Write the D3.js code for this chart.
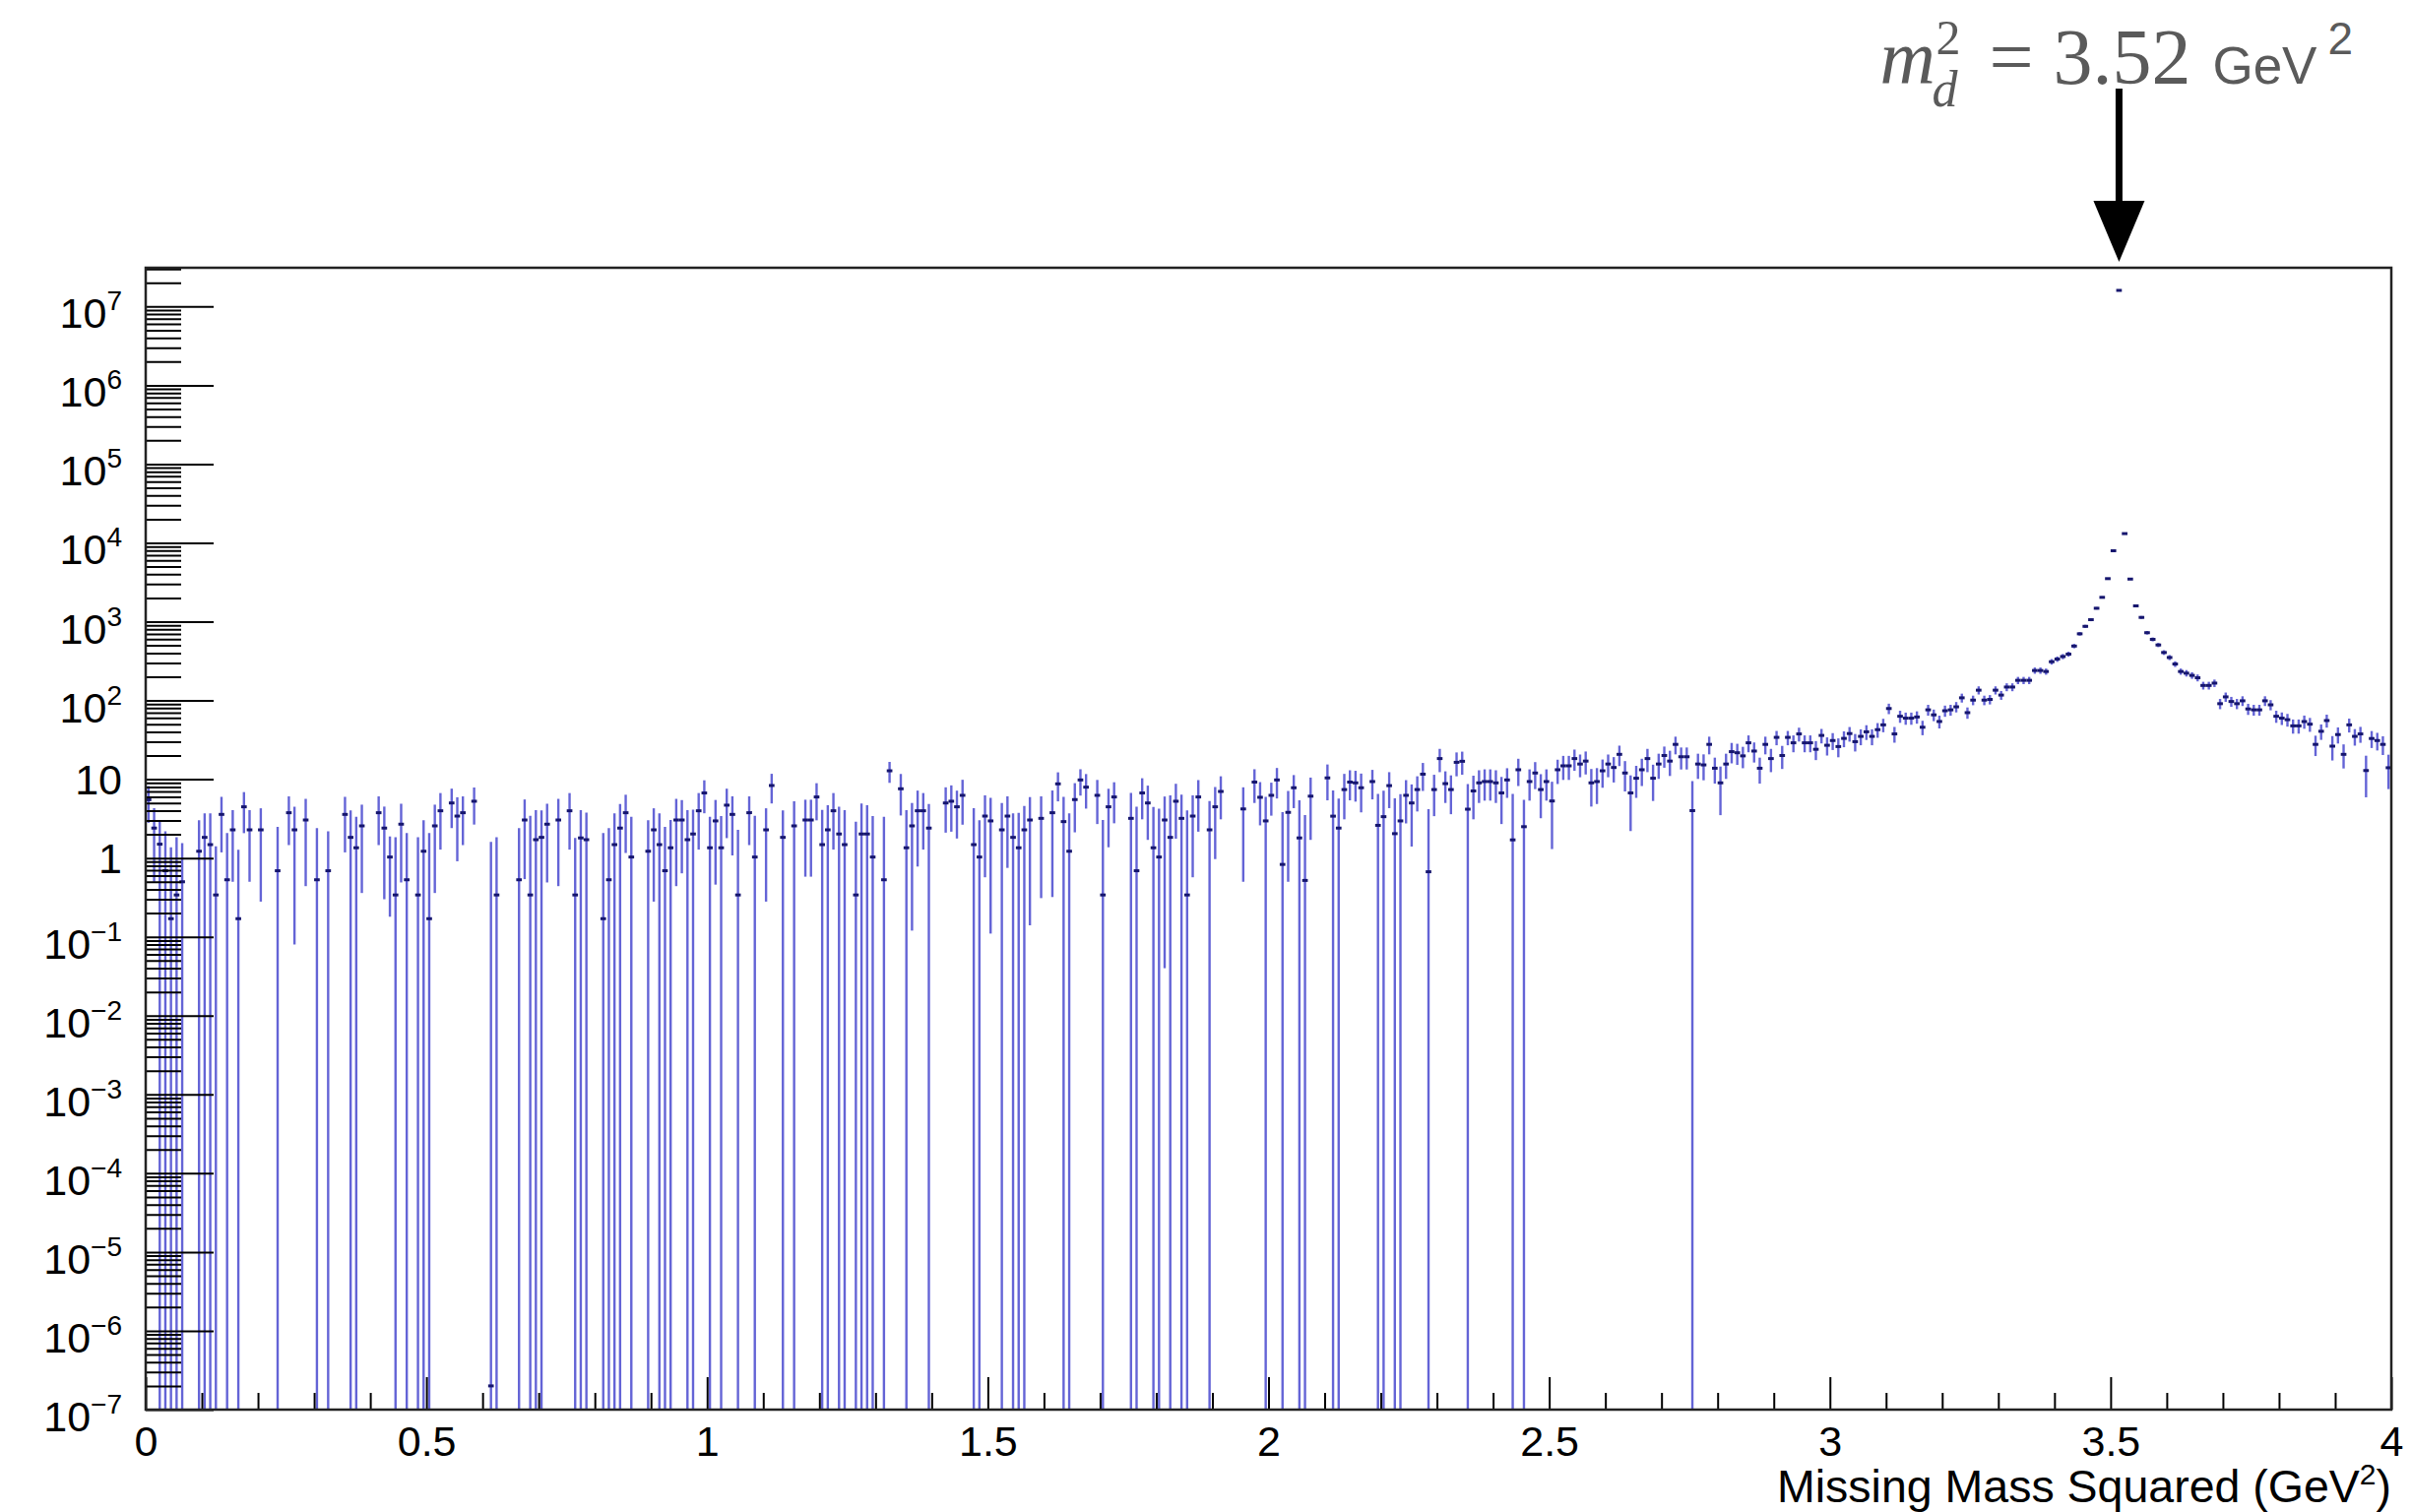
<!DOCTYPE html>
<html>
<head>
<meta charset="utf-8">
<script src="https://cdn.jsdelivr.net/npm/d3@7"></script>
<style>
  html, body { margin: 0; padding: 0; background: #fff; }
</style>
</head>
<body>
<div id="chart"></div>
<script>
// bin contents, 400 bins of width 0.01 from 0 to 4 (0 = empty bin)
const binValues = [
  5.5, 2.4, 1.5, 0.69, 0.17, 0.34, 0.5, 0, 0, 1.22,          // 0-9
  1.83, 1.48, 0.34, 3.58, 0.53, 2.28, 0.17, 4.47, 2.28, 0,   // 10-19
  2.28, 0, 0, 0.69, 0, 3.76, 2.28, 0, 3.04, 0,               // 20-29
  0.53, 0, 0.69, 0, 0, 3.58, 1.83, 1.35, 2.56, 0,            // 30-39
  0, 3.76, 2.4, 1.03, 0.34, 2.69, 0.53, 0, 0.34, 1.22,       // 40-49
  0.17, 2.56, 3.98, 0, 5.0, 3.41, 3.76, 0, 5.26, 0,          // 50-59
  0, 2e-7, 0.34, 0, 0, 0, 0.53, 3.04, 0.34, 1.71,            // 60-69
  1.83, 2.69, 0, 3.04, 0, 3.98, 0.34, 1.8, 1.71, 0,          // 70-79
  0, 0.17, 0.53, 1.48, 2.4, 3.76, 1.03, 0, 0, 1.22,          // 80-89
  2.28, 1.48, 0.69, 1.35, 3.04, 3.04, 1.71, 2.02, 3.98, 6.7, // 90-99
  1.35, 2.96, 1.35, 4.69, 3.58, 0.34, 0, 3.76, 1.03, 0,      // 100-109
  2.28, 8.33, 0, 1.83, 0, 2.56, 0, 3.04, 3.04, 5.96,         // 110-119
  1.48, 2.28, 3.98, 2.02, 1.48, 0, 0.34, 2.02, 2.02, 1.03,   // 120-129
  0, 0.53, 12.8, 0, 7.57, 1.35, 2.56, 3.98, 3.98, 2.4,       // 130-139
  0, 0, 5.0, 5.26, 4.47, 6.25, 0, 1.48, 1.03, 3.41,          // 140-149
  2.96, 0, 2.28, 3.41, 1.83, 1.35, 2.28, 3.04, 0, 3.19,      // 150-159
  0, 3.76, 8.74, 2.9, 1.22, 5.52, 9.8, 7.94, 0, 6.25,        // 160-169
  0.34, 4.47, 5.96, 0, 0, 3.19, 0.69, 6.7, 5.0, 1.35,        // 170-179
  1.03, 3.04, 1.83, 5.26, 3.19, 0.34, 3.41, 5.96, 0, 2.28,   // 180-189
  4.47, 7.0, 0, 0, 0, 4.2, 0, 9.2, 5.9, 2.96,                // 190-199
  6.25, 9.8, 0.83, 3.8, 7.8, 1.8, 0.52, 6.1, 0, 0,           // 200-209
  10.4, 3.4, 2.4, 7.4, 9.2, 9.0, 7.8, 0, 9.35, 2.6,          // 210-219
  3.35, 8.3, 2.04, 2.96, 6.25, 5.0, 7.4, 11.6, 0.67, 7.4,    // 220-229
  18.3, 8.8, 7.4, 16.4, 16.9, 4.17, 7.1, 9.0, 9.35, 9.35,    // 230-239
  9.0, 6.7, 9.8, 1.7, 13.2, 2.5, 9.35, 12.0, 7.4, 9.35,      // 240-249
  5.3, 13.2, 14.8, 14.8, 18.3, 15.6, 17.0, 9.0, 9.35, 12.8,  // 250-259
  15.6, 14.1, 20.7, 12.0, 6.7, 10.3, 13.2, 18.3, 10.3, 15.6, // 260-269
  20.0, 17.0, 27.7, 19.3, 19.3, 4.0, 15.6, 15.2, 27.7, 13.8, // 270-279
  9.0, 15.6, 22.4, 21.7, 19.8, 29.0, 22.8, 13.8, 27.7, 18.3, // 280-289
  34.0, 20.0, 34.0, 29.0, 37.6, 29.0, 29.0, 24.0, 36.0, 27.0, // 290-299
  31, 26, 33, 38, 30, 35, 40, 35, 42.6, 49,                  // 300-309
  79, 37.6, 63, 59.6, 59.6, 61.7, 45.7, 76, 65.6, 54.1,      // 310-319
  74, 76, 83, 108, 70, 101, 135, 101, 103, 135,              // 320-329
  117, 148, 148, 180, 180, 180, 240, 240, 233, 310,          // 330-339
  335, 361, 387, 490, 701, 872, 1059, 1479, 2034, 3515,      // 340-349
  7943, 1.6e7, 13100, 3470, 1585, 1132, 724, 596, 506, 406,  // 350-359
  351, 290, 233, 222, 208, 194, 155, 155, 166, 91,           // 360-369
  111, 97, 91, 99, 78, 76, 76, 99, 88, 63,                   // 370-379
  59.6, 57, 47.6, 47.6, 54, 50, 27.7, 40.6, 55.6, 26.3,      // 380-389
  36.9, 20.7, 49, 35, 37.6, 12.9, 32.9, 31, 27.7, 14         // 390-399
];

// bin errors (symmetric)
const binErrors = [
  2.7, 1.9, 1.5, 1.5, 1.2, 1.5, 1.05, 0, 0, 1.8,
  1.85, 2.2, 1.07, 2.4, 1.54, 1.78, 1.1, 2.4, 1.78, 0,
  2.0, 0, 0, 1.8, 0, 2.3, 2.2, 0, 2.6, 0,
  1.87, 0, 1.5, 0, 0, 2.4, 2.2, 2.0, 2.2, 0,
  0, 2.3, 2.1, 0.85, 1.5, 2.2, 1.54, 0, 1.5, 1.8,
  1.9, 2.2, 2.7, 0, 2.6, 2.5, 2.3, 0, 2.6, 0,
  0, 1.6, 1.5, 0, 0, 0, 1.87, 2.5, 3.1, 2.35,
  2.2, 2.2, 0, 2.6, 0, 2.7, 1.46, 2.26, 2.05, 0,
  0, 1.9, 1.87, 2.2, 2.45, 2.6, 2.3, 0, 0, 1.8,
  2.0, 2.2, 1.8, 1.7, 2.6, 2.4, 2.35, 2.1, 2.7, 3.0,
  2.0, 2.5, 2.06, 2.9, 2.5, 1.94, 0, 2.3, 2.4, 0,
  2.0, 3.4, 0, 2.2, 0, 2.7, 0, 2.46, 2.46, 2.95,
  2.6, 2.4, 2.7, 2.45, 2.58, 0, 2.56, 2.9, 2.67, 2.38,
  0, 2.8, 3.8, 0, 4.1, 2.7, 2.44, 3.2, 2.7, 2.45,
  0, 0, 2.9, 3.1, 2.7, 3.6, 0, 2.8, 2.0, 2.84,
  2.85, 0, 2.7, 2.66, 1.85, 2.4, 2.3, 2.9, 0, 2.88,
  0, 3.44, 3.5, 3.06, 2.46, 3.4, 3.6, 3.7, 0, 3.55,
  2.7, 3.1, 3.2, 0, 0, 3.5, 3.8, 3.6, 3.3, 3.1,
  3.2, 3.0, 4.4, 3.5, 3.2, 3.7, 2.84, 3.8, 0, 3.0,
  3.5, 3.9, 0, 0, 0, 3.7, 0, 4.2, 3.3, 3.0,
  2.8, 4.1, 3.0, 3.3, 3.5, 3.6, 3.0, 4.4, 0, 0,
  5.0, 3.8, 3.3, 4.3, 3.8, 3.8, 4.0, 0, 3.8, 3.9,
  3.8, 4.0, 3.7, 3.5, 3.5, 3.6, 3.5, 4.5, 3.5, 4.0,
  6.0, 3.8, 3.8, 5.5, 5.5, 4.5, 4.0, 4.0, 4.0, 4.0,
  4.0, 4.0, 4.0, 4.8, 5.0, 3.0, 4.0, 4.5, 4.2, 4.0,
  4.0, 4.5, 5.0, 5.0, 5.5, 5.0, 5.5, 4.5, 4.5, 5.0,
  5.0, 5.0, 6.0, 5.0, 4.5, 4.5, 5.0, 6.0, 5.0, 5.5,
  6.0, 6.0, 7.0, 6.0, 6.0, 5.5, 5.5, 5.5, 7.0, 5.0,
  5.5, 5.5, 6.5, 6.5, 6.0, 7.0, 6.5, 5.0, 7.0, 6.0,
  7.0, 6.5, 7.0, 7.0, 7.5, 7.0, 7.0, 6.5, 7.5, 7.0,
  7.5, 7, 7.5, 8, 7.5, 8, 8.5, 8, 9, 9.5,
  12, 8.5, 11, 10.5, 10.5, 11, 9.5, 12, 11, 10,
  12, 12, 12.5, 14, 11.5, 14, 16, 14, 14, 16,
  15, 17, 17, 19, 19, 19, 22, 22, 21, 25,
  26, 27, 28, 31, 37, 41, 46, 54, 63, 83,
  125, 5600, 160, 82, 56, 47, 38, 34, 31, 28,
  26, 24, 21, 21, 20, 19.5, 17.5, 17.5, 18, 13.5,
  15, 14, 13.5, 14, 12.5, 12, 12, 14, 13, 11,
  10.8, 10.5, 9.7, 9.7, 10.3, 10, 8, 9, 10.4, 9,
  8.5, 7, 9.8, 8.3, 8.6, 7, 8, 7.8, 7.4, 6.5
];

const binWidth = 0.01;
const xDomain = [0, 4];
const yDomain = [1e-7, 3.1e7];
const xMajorTicks = [0, 0.5, 1, 1.5, 2, 2.5, 3, 3.5, 4];
const xTickLabels = ["0", "0.5", "1", "1.5", "2", "2.5", "3", "3.5", "4"];
const yDecades = [-7, -6, -5, -4, -3, -2, -1, 0, 1, 2, 3, 4, 5, 6, 7];
const peakPosition = 3.515;   // centre of the peak bin, where the arrow points

const W = 2449, H = 1536;
const frame = { left: 148, right: 2429, top: 272, bottom: 1432 };
const sans = "'Liberation Sans', Arial, Helvetica, sans-serif";
const serif = "'Liberation Serif', 'Times New Roman', serif";

const svg = d3.select("#chart").append("svg")
  .attr("width", W)
  .attr("height", H)
  .attr("font-family", sans)
  .style("display", "block");

svg.append("rect").attr("width", W).attr("height", H).attr("fill", "#fff");

const x = d3.scaleLinear().domain(xDomain).range([frame.left, frame.right]);
const y = d3.scaleLog().domain(yDomain).range([frame.bottom, frame.top]);

// ---- bins ----
const bins = binValues.map((v, i) => ({
  lo: i * binWidth,
  hi: (i + 1) * binWidth,
  v: v,
  e: binErrors[i]
})).filter(d => d.v > 0);

const plot = svg.append("g");

// vertical error bars (down to the frame when the lower edge is <= 0)
plot.selectAll("line.err")
  .data(bins)
  .enter().append("line")
  .attr("class", "err")
  .attr("x1", d => x((d.lo + d.hi) / 2))
  .attr("x2", d => x((d.lo + d.hi) / 2))
  .attr("y1", d => y(Math.min(d.v + d.e, yDomain[1])))
  .attr("y2", d => d.v - d.e > yDomain[0] ? y(d.v - d.e) : frame.bottom)
  .attr("stroke", "#6464d6")
  .attr("stroke-width", 2.4);

// horizontal bin-width bars
plot.selectAll("line.bin")
  .data(bins)
  .enter().append("line")
  .attr("class", "bin")
  .attr("x1", d => x(d.lo))
  .attr("x2", d => x(d.hi))
  .attr("y1", d => y(d.v))
  .attr("y2", d => y(d.v))
  .attr("stroke", "#16166e")
  .attr("stroke-width", 3);

// ---- axes (ROOT style: ticks inside the frame) ----
const xMinor = d3.range(1, 40).map(i => i / 10).filter(t => Math.abs(t * 2 - Math.round(t * 2)) > 1e-6);

const xAxisMajor = d3.axisBottom(x)
  .tickValues(xMajorTicks)
  .tickSizeInner(-33)
  .tickSizeOuter(0)
  .tickFormat((d, i) => xTickLabels[i]);

const xAxisMinor = d3.axisBottom(x)
  .tickValues(xMinor)
  .tickSizeInner(-17)
  .tickSizeOuter(0)
  .tickFormat("");

const gxMinor = svg.append("g").attr("transform", `translate(0,${frame.bottom})`).call(xAxisMinor);
const gx = svg.append("g").attr("transform", `translate(0,${frame.bottom})`).call(xAxisMajor);
[gx, gxMinor].forEach(g => {
  g.attr("font-family", null).attr("font-size", null);
  g.select(".domain").remove();
  g.selectAll(".tick line").attr("stroke", "#000").attr("stroke-width", 2);
});
gx.selectAll(".tick text")
  .attr("fill", "#000")
  .attr("font-size", 43)
  .attr("dy", null)
  .attr("y", 1479 - frame.bottom);

const yMajor = yDecades.map(d => Math.pow(10, d));
const yMinor = [];
yDecades.forEach(d => {
  for (let m = 2; m <= 9; m++) {
    const v = m * Math.pow(10, d);
    if (v <= yDomain[1]) yMinor.push(v);
  }
});

const yAxisMajor = d3.axisLeft(y).tickValues(yMajor).tickSizeInner(-69).tickSizeOuter(0).tickFormat("");
const yAxisMinor = d3.axisLeft(y).tickValues(yMinor).tickSizeInner(-36).tickSizeOuter(0).tickFormat("");

const gyMinor = svg.append("g").attr("transform", `translate(${frame.left},0)`).call(yAxisMinor);
const gy = svg.append("g").attr("transform", `translate(${frame.left},0)`).call(yAxisMajor);
[gy, gyMinor].forEach(g => {
  g.select(".domain").remove();
  g.selectAll(".tick line").attr("stroke", "#000").attr("stroke-width", 2);
});

// y labels: 1, 10 and 10^n
const yLabels = svg.append("g");
yDecades.forEach(d => {
  const t = yLabels.append("text")
    .attr("x", 124)
    .attr("text-anchor", "end")
    .attr("font-size", 43)
    .attr("fill", "#000");
  if (d === 0 || d === 1) {
    t.attr("y", y(Math.pow(10, d)) + 15).text(d === 0 ? "1" : "10");
  } else {
    t.attr("y", y(Math.pow(10, d)) + 22);
    t.append("tspan").text("10");
    t.append("tspan")
      .attr("font-size", 28)
      .attr("dy", -18)
      .text(d < 0 ? "\u2212" + (-d) : String(d));
  }
});

// frame
svg.append("rect")
  .attr("x", frame.left)
  .attr("y", frame.top)
  .attr("width", frame.right - frame.left)
  .attr("height", frame.bottom - frame.top)
  .attr("fill", "none")
  .attr("stroke", "#222")
  .attr("stroke-width", 2.5);

// x axis title
const title = svg.append("text")
  .attr("x", frame.right)
  .attr("y", 1526)
  .attr("text-anchor", "end")
  .attr("font-size", 46.5)
  .attr("fill", "#000");
title.append("tspan").text("Missing Mass Squared (GeV");
title.append("tspan").attr("font-size", 30).attr("dy", -18).text("2");
title.append("tspan").attr("dy", 18).text(")");

// ---- annotation arrow ----
const ax = x(peakPosition);
svg.append("line")
  .attr("x1", ax).attr("x2", ax)
  .attr("y1", 90).attr("y2", 210)
  .attr("stroke", "#000")
  .attr("stroke-width", 7);
svg.append("path")
  .attr("d", `M${ax - 26},204 L${ax + 26},204 L${ax},266 Z`)
  .attr("fill", "#000");

const ann = svg.append("g").attr("fill", "#5a5a5a");
ann.append("text").attr("x", ax - 243).attr("y", 85)
  .attr("font-family", serif).attr("font-style", "italic").attr("font-size", 78).text("m");
ann.append("text").attr("x", ax - 186).attr("y", 55)
  .attr("font-family", serif).attr("font-size", 50).text("2");
ann.append("text").attr("x", ax - 190).attr("y", 108)
  .attr("font-family", serif).attr("font-style", "italic").attr("font-size", 52).text("d");
ann.append("text").attr("x", ax - 132).attr("y", 85)
  .attr("font-family", serif).attr("font-size", 80).text("= 3.52");
ann.append("text").attr("x", ax + 95).attr("y", 85)
  .attr("font-size", 53).text("GeV");
ann.append("text").attr("x", ax + 212).attr("y", 55)
  .attr("font-size", 46).text("2");
</script>
</body>
</html>
